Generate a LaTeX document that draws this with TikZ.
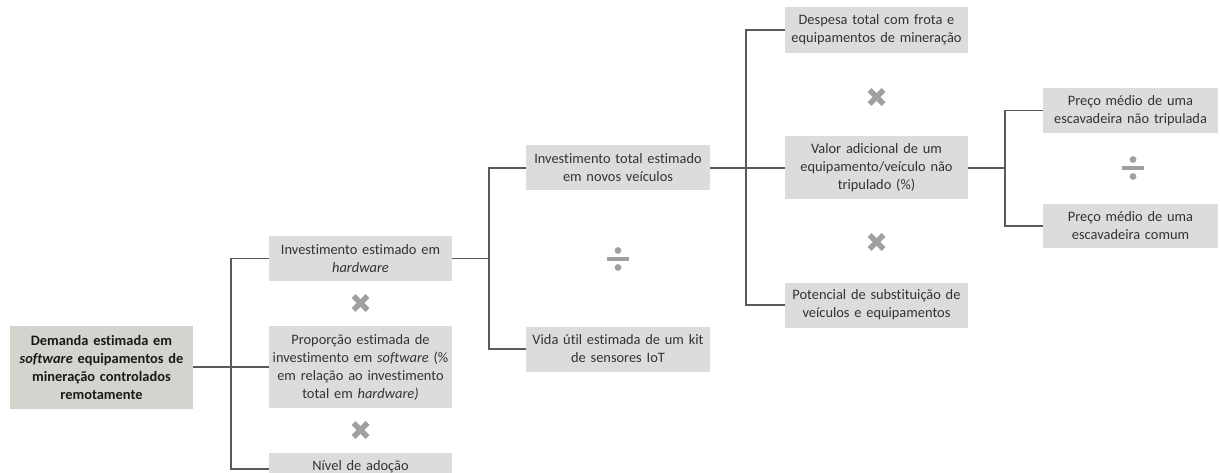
\documentclass[tikz,border=0pt]{standalone}
\usepackage{fontspec}
\setmainfont{Carlito}[Ligatures=NoCommon]
\definecolor{boxgray}{HTML}{DCDCDC}
\definecolor{rootgray}{HTML}{D4D4CF}
\definecolor{txt}{HTML}{333333}
\definecolor{linec}{HTML}{5A5A5A}
\definecolor{opc}{HTML}{A0A0A0}
\tikzset{
  bx/.style={fill=boxgray, text=txt, align=center, inner xsep=3pt, inner ysep=0pt,
    font=\fontsize{14.4}{18}\selectfont},
  rootbox/.style={bx, fill=rootgray, text=black!90, font=\bfseries\fontsize{14.4}{18}\selectfont},
  conn/.style={draw=linec, line width=1.3pt},
  timesop/.style={minimum size=20pt, inner sep=0pt, path picture={
      \draw[opc, line width=5.5pt] ([shift={(3pt,-3pt)}]path picture bounding box.north west) -- ([shift={(-3pt,3pt)}]path picture bounding box.south east);
      \draw[opc, line width=5.5pt] ([shift={(-3pt,-3pt)}]path picture bounding box.north east) -- ([shift={(3pt,3pt)}]path picture bounding box.south west);}},
  divop/.style={minimum size=24pt, inner sep=0pt, path picture={
      \fill[opc] ([shift={(1pt,-2pt)}]path picture bounding box.west) rectangle ([shift={(-1pt,2pt)}]path picture bounding box.east);
      \fill[opc] ([yshift=-8.5pt]path picture bounding box.center) circle (3.4pt);
      \fill[opc] ([yshift=8.5pt]path picture bounding box.center) circle (3.4pt);}}
}
\begin{document}
\begin{tikzpicture}[x=1pt,y=-1pt]
\useasboundingbox (0,0) rectangle (1220,473);
\clip (0,0) rectangle (1220,473);
% boxes
\node[rootbox, text width=177pt, minimum width=183pt, minimum height=83pt] (root) at (101.5,367)
  {Demanda estimada em\\ \textit{software} equipamentos de\\ mineração controlados\\ remotamente};
\node[bx, text width=177pt, minimum width=183pt, minimum height=45pt] (hw) at (360.5,258.5)
  {Investimento estimado em\\ \textit{hardware}};
\node[bx, text width=177pt, minimum width=183pt, minimum height=82pt] (prop) at (360.5,367)
  {Proporção estimada de\\ investimento em \textit{software} (\%\\ em relação ao investimento\\ total em \textit{hardware)}};
\node[bx, text width=177pt, minimum width=183pt, minimum height=28pt] (niv) at (360.5,467)
  {Nível de adoção};
\node[bx, text width=178pt, minimum width=184pt, minimum height=45pt] (inv) at (618,168)
  {Investimento total estimado\\ em novos veículos};
\node[bx, text width=178pt, minimum width=184pt, minimum height=45pt] (vida) at (618,349)
  {Vida útil estimada de um kit\\ de sensores IoT};
\node[bx, text width=177pt, minimum width=183pt, minimum height=46pt] (desp) at (876.5,30)
  {Despesa total com frota e\\ equipamentos de mineração};
\node[bx, text width=177pt, minimum width=183pt, minimum height=63pt] (valor) at (876.5,168)
  {Valor adicional de um\\ equipamento/veículo não\\ tripulado (\%)};
\node[bx, text width=177pt, minimum width=183pt, minimum height=45pt] (pot) at (876.5,305)
  {Potencial de substituição de\\ veículos e equipamentos};
\node[bx, text width=169pt, minimum width=175pt, minimum height=45pt] (p1) at (1130.5,110.5)
  {Preço médio de uma\\ escavadeira não tripulada};
\node[bx, text width=169pt, minimum width=175pt, minimum height=44pt] (p2) at (1130.5,226)
  {Preço médio de uma\\ escavadeira comum};
% operators
\node[timesop] (x1) at (360.5,303) {};
\node[timesop] (x2) at (360.5,430) {};
\node[timesop] (x3) at (876.5,97) {};
\node[timesop] (x4) at (876.5,242) {};
\node[divop] (d1) at (618,259) {};
\node[divop] (d2) at (1133,168) {};
% connectors
\coordinate (j1) at (231,367);
\coordinate (j2) at (489,258.5);
\coordinate (j3) at (746,168);
\coordinate (j4) at (1005,168);
\draw[conn] (root.east) -- (prop.west);
\draw[conn] (hw.west) -| (j1) |- ([yshift=-2pt]niv.west);
\draw[conn] (hw.east) -- (j2);
\draw[conn] (inv.west) -| (j2) |- (vida.west);
\draw[conn] (inv.east) -- (valor.west);
\draw[conn] (desp.west) -| (j3) |- (pot.west);
\draw[conn] (valor.east) -- (j4);
\draw[conn] (p1.west) -| (j4) |- (p2.west);
\end{tikzpicture}
\end{document}
